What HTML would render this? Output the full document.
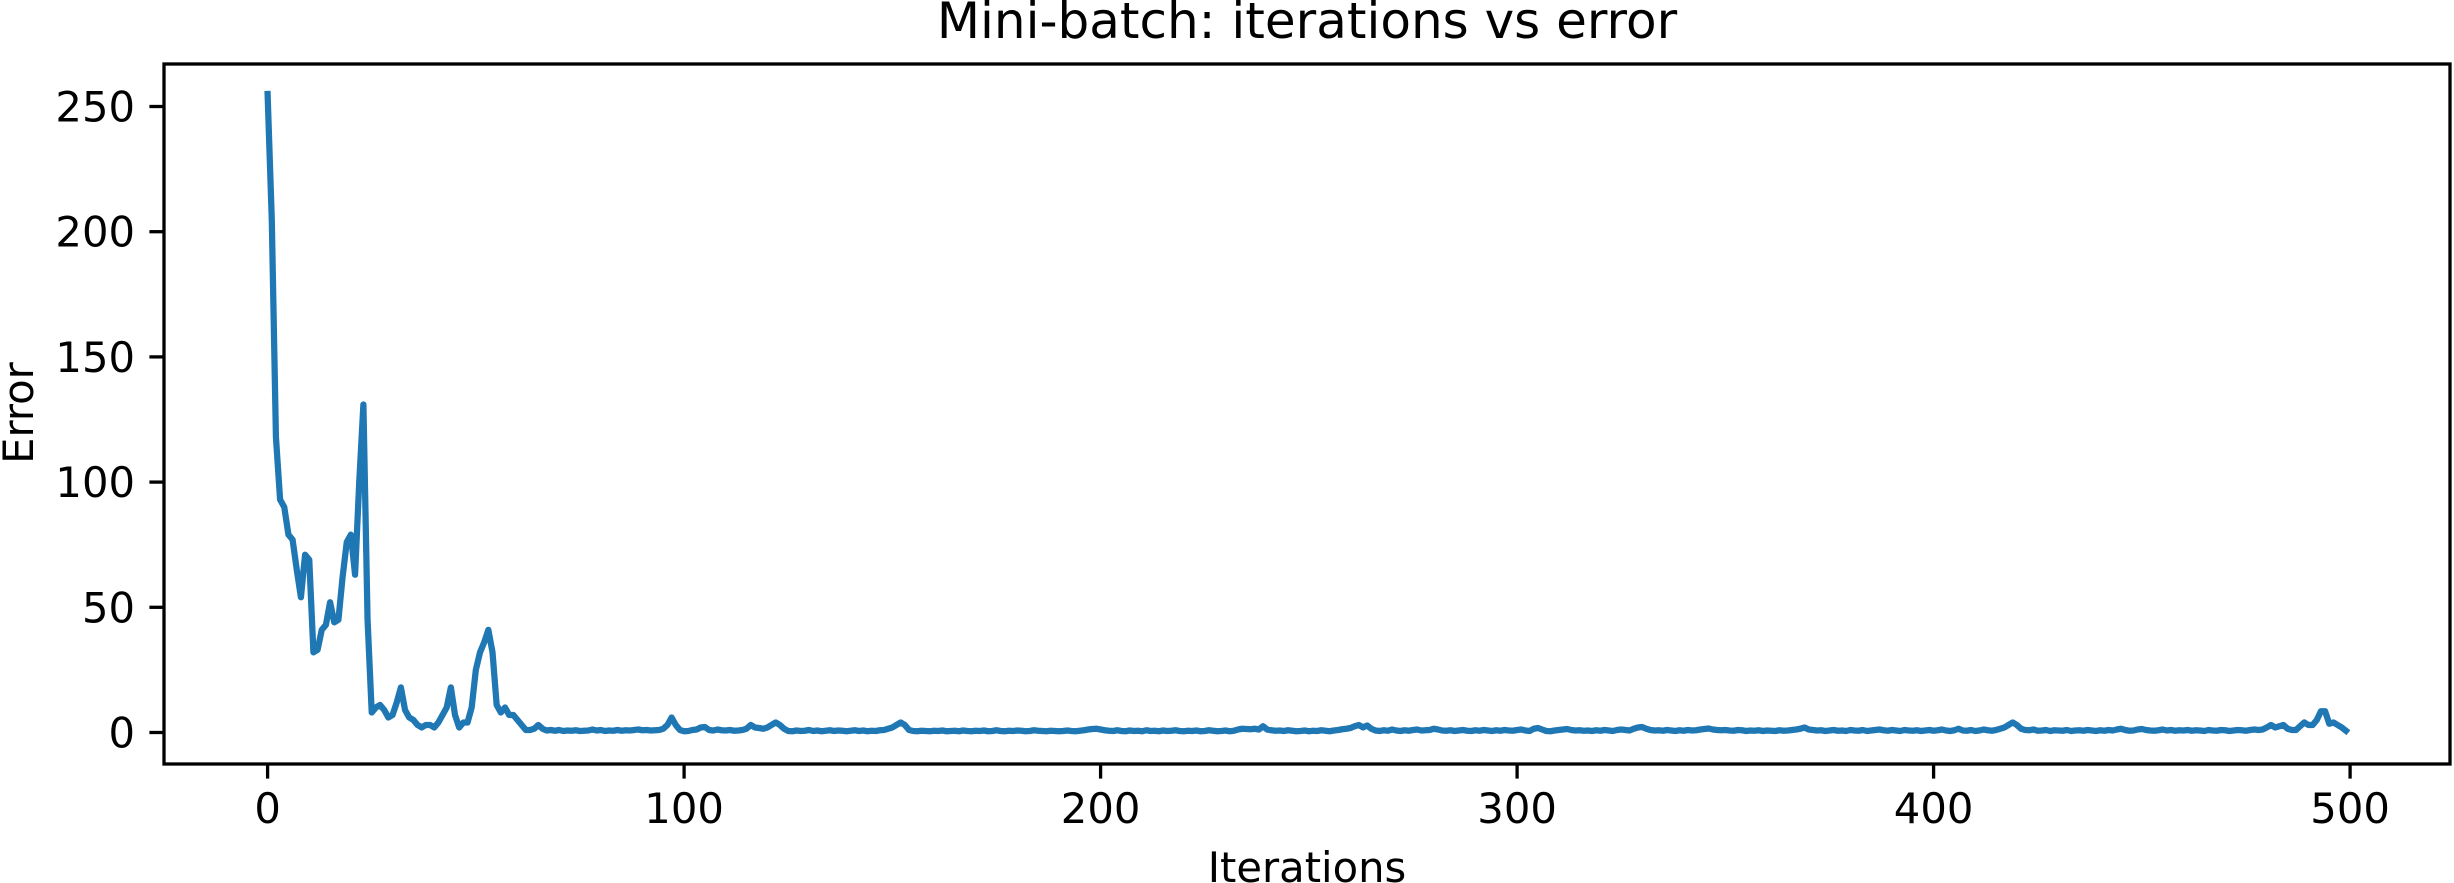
<!DOCTYPE html>
<html><head><meta charset="utf-8"><style>
html,body{margin:0;padding:0;background:#fff;}
svg{display:block;font-family:"DejaVu Sans","Liberation Sans",sans-serif;}
</style></head><body>
<svg id="chart" width="2454" height="883" viewBox="0 0 2454 883" xmlns="http://www.w3.org/2000/svg">
<rect x="0" y="0" width="2454" height="883" fill="#fff"/>
<text x="1307" y="38" font-size="50" text-anchor="middle" fill="#000">Mini-batch: iterations vs error</text>
<g id="plot"></g>
<text x="1307" y="882" font-size="41.7" text-anchor="middle" fill="#000">Iterations</text>
<text transform="translate(33,413) rotate(-90)" font-size="41.7" text-anchor="middle" fill="#000">Error</text>
</svg>
<script>
const xTicks = [0,100,200,300,400,500];
const yTicks = [0,50,100,150,200,250];
const errors = [
255,205,118,93,90,79,77,65,54,71,69,32,33,41,43,52,44,45,62,76,
79,63,100,131,45,8,10,11,9,6,7,12,18,9,6,5,3,2,3,3,
2,4,7,10,18,7,2,4,4,10,25,32,36,41,32,11,8,10,7,7,
5,3,1,1,1.5,3,1.5,0.8,1,0.7,1,0.6,0.8,0.7,0.9,0.6,0.7,0.8,1.2,0.8,
1,0.6,0.8,0.7,1,0.7,0.9,0.8,1,1.2,0.9,1,0.8,0.9,1,1.5,3,6,3,1,
0.5,0.6,1,1.2,2,2.2,1,0.8,1.2,0.9,0.8,1,0.7,0.8,1,1.5,3,2,1.8,1.5,
2,3,4,3,1.5,0.6,0.5,0.8,0.6,0.7,1,0.6,0.8,0.5,0.7,0.9,0.6,0.8,0.7,0.5,
0.7,0.9,0.6,0.8,0.5,0.7,0.6,0.9,1,1.5,2,3,4,3,1,0.6,0.5,0.7,0.6,0.5,
0.7,0.6,0.8,0.5,0.6,0.7,0.5,0.8,0.6,0.5,0.7,0.6,0.8,0.5,0.6,0.9,0.6,0.5,0.7,0.6,
0.8,0.7,0.5,0.6,0.9,0.7,0.6,0.5,0.7,0.6,0.5,0.6,0.8,0.6,0.5,0.7,0.9,1.2,1.4,1.5,
1.2,0.9,0.7,0.6,0.9,0.6,0.5,0.8,0.6,0.7,0.5,0.9,0.6,0.7,0.5,0.8,0.6,0.7,0.9,0.6,
0.5,0.7,0.6,0.8,0.5,0.6,0.9,0.7,0.5,0.6,0.8,0.5,0.7,1.2,1.5,1.4,1.3,1.5,1.2,2.5,
1.2,0.9,0.7,0.8,0.6,0.9,0.7,0.5,0.6,0.8,0.5,0.7,0.6,0.9,0.7,0.5,0.8,1,1.3,1.5,
1.8,2.5,3,2,2.8,1.5,0.8,0.6,0.9,0.7,1.2,0.8,0.6,0.9,0.7,1,1.2,0.8,0.9,1,
1.5,1.2,0.8,0.7,0.9,0.6,0.8,1,0.7,0.6,0.9,0.7,1,0.8,0.6,0.9,0.7,1,0.8,0.7,
1,1.2,0.8,0.6,1.5,1.8,1.2,0.6,0.5,0.8,1,1.2,1.4,1,0.8,0.9,0.7,0.8,0.6,0.9,
0.7,1,0.8,0.6,1,1.2,1,0.8,1.5,2,2.2,1.5,1,0.8,0.9,0.7,1,0.8,0.6,0.9,
0.7,1,0.8,0.9,1.2,1.4,1.6,1.2,1,0.9,1,0.8,0.7,1,0.9,0.6,0.8,0.7,0.9,0.6,
0.8,0.7,0.6,0.9,0.7,0.8,1,1.2,1.5,2,1.2,1,0.8,0.9,0.6,0.8,1,0.7,0.8,0.6,
1,0.8,0.7,1,0.6,0.8,1,1.2,0.9,0.7,1,0.8,0.6,1,0.8,0.7,0.9,0.6,0.8,1,
0.7,0.9,1.2,0.8,0.6,0.9,1.5,0.8,0.7,1,0.6,0.8,1.2,0.9,0.7,1,1.5,2,3,4,
3,1.5,1,0.9,1.2,0.7,0.8,1,0.6,0.9,0.8,0.7,1,0.6,0.8,0.9,0.7,1,0.8,0.6,
0.9,0.7,1,0.8,1.2,1.5,1,0.7,0.8,1.2,1.4,1,0.8,0.7,0.9,1.2,0.8,1,0.7,0.9,
0.8,1,0.7,0.9,0.8,0.6,1,0.8,0.7,1,0.9,0.6,0.8,1,0.9,0.7,1,1.2,1,1.2,
2,3,2,2.5,3,1.5,1,1,2.5,4,3,3,5,8.5,8.5,3.5,4,3,2,0.7
];
const NS='http://www.w3.org/2000/svg';
const L=164,R=2450,T=64,B=764;
function xs(v){return 267.6+(v)*4.165;}
function ys(v){return 732.5-v*2.504;}
const g=document.getElementById('plot');
function mk(tag,attrs){const e=document.createElementNS(NS,tag);for(const k in attrs)e.setAttribute(k,attrs[k]);return e;}
// line
let d='';
errors.forEach((v,i)=>{d+=(i?'L':'M')+xs(i).toFixed(2)+' '+ys(v).toFixed(2);});
const path=mk('path',{d:d,fill:'none',stroke:'#1f77b4','stroke-width':6.25,'stroke-linejoin':'round','stroke-linecap':'square'});


g.appendChild(path);
// frame
const frame=mk('rect',{x:L,y:T,width:R-L,height:B-T,fill:'none',stroke:'#000','stroke-width':3.3});


g.appendChild(frame);
xTicks.forEach(t=>{
  const x=xs(t);
  const tk=mk('line',{x1:x,x2:x,y1:B,y2:B+14.6,stroke:'#000','stroke-width':3.3});
  
  
  g.appendChild(tk);
  const tx=mk('text',{x:x,y:823,'font-size':41.7,'text-anchor':'middle',fill:'#000'});
  tx.textContent=t;
  
  
  g.appendChild(tx);
});
yTicks.forEach(t=>{
  const y=ys(t);
  const tk=mk('line',{x1:L-14.6,x2:L,y1:y,y2:y,stroke:'#000','stroke-width':3.3});
  
  
  g.appendChild(tk);
  const tx=mk('text',{x:L-29,y:y+15,'font-size':41.7,'text-anchor':'end',fill:'#000'});
  tx.textContent=t;
  
  
  g.appendChild(tx);
});
</script>
</body></html>
